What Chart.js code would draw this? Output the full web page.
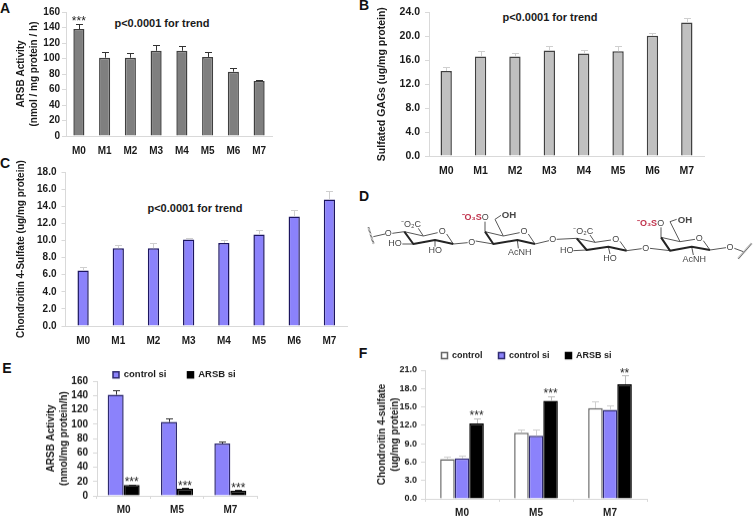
<!DOCTYPE html>
<html><head><meta charset="utf-8">
<script src="https://cdn.jsdelivr.net/npm/chart.js@4"></script>
<style>
html,body{margin:0;padding:0;background:#fff;width:753px;height:517px;overflow:hidden}
body{position:relative;font-family:"Liberation Sans",Arial,sans-serif;color:#1a1a1a}
canvas{position:absolute}
.t{position:absolute;white-space:nowrap;font-weight:bold;transform:translate(-50%,-50%);line-height:1}
.l{font-size:14px;color:#111}
.p{font-size:11px}
svg{position:absolute;left:355px;top:180px;opacity:.99;filter:blur(.3px)}
</style></head><body>
<div class="t l" style="left:5px;top:8px">A</div>
<div class="t l" style="left:364px;top:5px">B</div>
<div class="t l" style="left:5px;top:163px">C</div>
<div class="t l" style="left:364px;top:196px">D</div>
<div class="t l" style="left:7px;top:368px">E</div>
<div class="t l" style="left:363px;top:353px">F</div>
<div class="t p" style="left:162px;top:23px">p&lt;0.0001 for trend</div>
<div class="t p" style="left:550px;top:17px">p&lt;0.0001 for trend</div>
<div class="t p" style="left:195px;top:208px">p&lt;0.0001 for trend</div>

<svg width="398" height="130" viewBox="0 0 1194 390" font-family="Liberation Sans, Arial, sans-serif" font-size="27" fill="#444">
<g stroke="#555" stroke-width="3" fill="none">
<path d="M148 155L205 168L248 158M275 162L295 192M295 192L338 188M112 160L148 155M55 170L90 162M205 168L190 145M175 192L142 192M240 180L240 200"/>
<path d="M390 155L445 168L494 158M520 162L540 192M362 183L415 192M390 155L390 125M445 168L420 118L438 106M487 180L490 205M540 192L582 182"/>
<path d="M665 175L720 187L768 180M795 184L815 212M605 178L665 175M720 187L705 165M695 210L655 212M760 200L765 222M815 212L860 206"/>
<path d="M918 172L975 185L1020 178M1045 182L1065 210M885 205L945 212M918 172L918 142M975 185L945 125L965 118M1010 200L1015 225M1065 210L1113 203M1138 205L1165 215"/>
</g>
<g stroke="#222" stroke-width="6" fill="none" stroke-linejoin="round">
<path d="M148 155L175 192L240 180L295 192"/><path d="M390 155L415 192L487 180L540 192"/>
<path d="M665 175L695 210L760 200L815 212"/><path d="M918 172L945 212L1010 200L1065 210"/>
</g>
<g stroke="#444" stroke-width="6" stroke-dasharray="2 2" fill="none"><path d="M40 142L56 192"/><path d="M1150 236L1190 190"/></g>
<g text-anchor="middle" dominant-baseline="middle">
<text x="100" y="161">O</text><text x="262" y="155">O</text><text x="350" y="187">O</text><text x="507" y="155">O</text><text x="593" y="180">O</text><text x="782" y="178">O</text><text x="872" y="205">O</text><text x="1033" y="175">O</text><text x="1125" y="202">O</text>
<text x="120" y="192">HO</text><text x="241" y="213">HO</text><text x="635" y="212">HO</text><text x="765" y="235">HO</text>
<text x="494" y="218">AcNH</text><text x="1018" y="238">AcNH</text>
<text x="462" y="105" font-weight="bold" font-size="29">OH</text><text x="990" y="120" font-weight="bold" font-size="29">OH</text>
<text x="168" y="135">⁻O₂C</text><text x="685" y="155">⁻O₂C</text>
<text x="350" y="114" fill="#c0304a" font-weight="bold">⁻O₃S</text><text x="391" y="114">O</text>
<text x="876" y="132" fill="#c0304a" font-weight="bold">⁻O₃S</text><text x="917" y="132">O</text>
</g>
</svg>

<canvas id="a"></canvas><canvas id="b"></canvas><canvas id="c"></canvas><canvas id="e"></canvas><canvas id="f"></canvas>
<script>
const months = ['M0','M1','M2','M3','M4','M5','M6','M7'];
const groups = ['M0','M5','M7'];

const arsbActivity    = [138,101,101,110,110,102,83,71];
const arsbActivityTop = [145,109,107,117,116,108,88,72];

const sulfatedGags    = [14.2,16.6,16.6,17.6,17.1,17.5,20.1,22.3];
const sulfatedGagsTop = [14.9,17.5,17.2,18.3,17.7,18.3,20.5,23.1];

const c4s    = [6.5,9.1,9.1,10.1,9.7,10.7,12.8,14.8];
const c4sTop = [6.9,9.5,9.7,10.3,10.1,11.2,13.6,15.8];

const eControlSi    = [141,103,73];
const eControlSiTop = [148,108,76];
const eArsbSi       = [15,10,7];
const eArsbSiTop    = [16,11,8];

const fControl      = [6.5,10.8,14.8];
const fControlTop   = [6.9,11.3,15.9];
const fControlSi    = [6.6,10.3,14.5];
const fControlSiTop = [7.0,11.3,15.3];
const fArsbSi       = [12.3,16.0,18.7];
const fArsbSiTop    = [13.2,16.8,20.2];

const FONT = '"Liberation Sans", Arial, sans-serif';
const INK = '#1a1a1a', AXIS = '#d9d9d9';
const PURPLE = '#8b82fb';

const marks = {
  id:'marks',
  beforeLayout(ch){
    if(ch.legend && !ch.legend._flat){
      const fit = ch.legend.fit;
      ch.legend.fit = function(){ fit.call(this); this.height = 0; };
      ch.legend._flat = true;
    }
  },
  afterLayout(ch,_,o){
    if(o.legendAt && ch.legend){
      const pad = ch.options.plugins.legend.labels.padding;
      const w = ch.legend.right - ch.legend.left;
      ch.legend.left = o.legendAt[0] - pad; ch.legend.right = ch.legend.left + w;
      ch.legend.top = o.legendAt[1] - pad; ch.legend.bottom = ch.legend.top + 2*pad + 14;
    }
  },
  afterDatasetsDraw(ch,_,o){
    const c = ch.ctx, y = ch.scales.y;
    ch.data.datasets.forEach((d,di)=>{
      const m = ch.getDatasetMeta(di);
      d.errTop.forEach((t,i)=>{
        const x = m.data[i].x, y0 = y.getPixelForValue(d.data[i]), y1 = y.getPixelForValue(t);
        c.save(); c.strokeStyle = d.errColor; c.lineWidth = 1;
        const xx = Math.round(x)+.5, yy = Math.round(y1)+.5;
        c.beginPath(); c.moveTo(xx,y0); c.lineTo(xx,yy); c.moveTo(xx-3.5,yy); c.lineTo(xx+3.5,yy); c.stroke();
        c.restore();
      });
    });
    (o.stars||[]).forEach(s=>{
      const x = ch.getDatasetMeta(s[0]).data[s[1]].x;
      const t = ch.data.datasets[s[0]].errTop[s[1]];
      c.save(); c.fillStyle='#222'; c.font='12px '+FONT; c.textAlign='center'; c.textBaseline='top';
      c.fillText(s[2], x, y.getPixelForValue(t)-7.5); c.restore();
    });
  }
};

function make(id, s){
  const padTop = s.padTop||9, padRight = 8;
  const W = s.yW + (s.R-s.L) + padRight, H = padTop + (s.B-s.T) + 28;
  const ox = s.L-s.yW, oy = s.T-padTop;
  const el = document.getElementById(id);
  el.width = W; el.height = H;
  el.style.left = ox+'px'; el.style.top = oy+'px';
  el.style.width = W+'px'; el.style.height = H+'px';
  new Chart(el,{
    type:'bar',
    data:{labels:s.labels,datasets:s.datasets.map(d=>({
      label:d.label,data:d.data,errTop:d.top,errColor:d.err,
      backgroundColor:d.fill,borderColor:d.line,borderWidth:1.5,
      categoryPercentage:s.cat,barPercentage:1
    }))},
    plugins:[marks],
    options:{
      responsive:false,animation:false,events:[],
      layout:{padding:{top:padTop,right:padRight,left:0,bottom:0}},
      plugins:{
        tooltip:{enabled:false},
        legend:s.legend?{display:true,position:'top',align:'start',
          labels:{boxWidth:6,boxHeight:6,padding:s.legend.gap,color:INK,font:{family:FONT,size:s.legend.size,weight:'bold'}}}:{display:false},
        marks:{legendAt:s.legend?[s.legend.at[0]-ox,s.legend.at[1]-oy]:null,stars:s.stars}
      },
      scales:{
        x:{
          grid:{display:true,drawOnChartArea:false,drawTicks:!!s.xTicks,tickLength:s.xTicks?3:0,color:AXIS},
          border:{color:AXIS},
          ticks:{color:INK,padding:s.xTicks?5:9,maxRotation:0,autoSkip:false,font:{family:FONT,size:s.xSize||10,weight:'bold'}},
          afterFit(a){a.height=28}
        },
        y:{
          min:0,max:s.max,
          grid:{drawOnChartArea:false,tickLength:4,color:AXIS},
          border:{color:AXIS},
          ticks:{stepSize:s.step,padding:s.yPad,color:INK,autoSkip:false,font:{family:FONT,size:s.ySize||10,weight:'bold'},
            callback:v=>s.dec?v.toFixed(1):String(v)},
          title:{display:true,text:s.title,color:INK,padding:0,font:{family:FONT,size:s.titleSize||10,weight:'bold',lineHeight:s.titleLH||1.3}},
          afterFit(a){a.width=s.yW}
        }
      }
    }
  });
}

make('a',{L:65.5,R:271.5,T:11.5,B:136,yW:51,yPad:2,max:160,step:20,labels:months,cat:.43,
  title:['ARSB Activity','(nmol / mg protein / h)'],
  datasets:[{label:'ARSB',data:arsbActivity,top:arsbActivityTop,fill:'#7f7f7f',line:'#3f3f3f',err:'#333'}],
  stars:[[0,0,'***']]});
make('b',{L:429,R:704,T:4.5,B:156,yW:53,yPad:5,padTop:4,max:24,step:4,dec:true,ySize:10.5,xSize:10.5,titleSize:10.5,labels:months,cat:.33,
  title:'Sulfated GAGs (ug/mg protein)',titleLH:1.2,
  datasets:[{label:'GAGs',data:sulfatedGags,top:sulfatedGagsTop,fill:'#c0c0c0',line:'#404040',err:'#cfcfcf'}]});
make('c',{L:65.5,R:347,T:172,B:326,yW:50.5,yPad:5,padTop:14,max:18,step:2,dec:true,labels:months,cat:.32,
  title:'Chondroitin 4-Sulfate (ug/mg protein)',titleLH:1.2,
  datasets:[{label:'C4S',data:c4s,top:c4sTop,fill:PURPLE,line:'#1c1560',err:'#cfcfcf'}]});
make('e',{L:97,R:257,T:381,B:495.5,yW:52,yPad:5,padTop:14,max:160,step:20,labels:groups,cat:.6,xTicks:true,
  title:['ARSB Activity','(nmol/mg protein/h)'],
  legend:{at:[113,370],gap:21,size:9.5},
  datasets:[
    {label:'control si',data:eControlSi,top:eControlSiTop,fill:PURPLE,line:'#2f2a70',err:'#333'},
    {label:'ARSB si',data:eArsbSi,top:eArsbSiTop,fill:'#000',line:'#000',err:'#222'}],
  stars:[[1,0,'***'],[1,1,'***'],[1,2,'***']]});
make('f',{L:424.5,R:647,T:370,B:498.5,yW:49,yPad:4,padTop:22,max:21,step:3,dec:true,ySize:9,labels:groups,cat:.59,xTicks:true,
  title:['Chondroitin 4-sulfate','(ug/mg protein)'],
  legend:{at:[441,351],gap:16,size:9},
  datasets:[
    {label:'control',data:fControl,top:fControlTop,fill:'#fff',line:'#666',err:'#cfcfcf'},
    {label:'control si',data:fControlSi,top:fControlSiTop,fill:PURPLE,line:'#2f2a70',err:'#cfcfcf'},
    {label:'ARSB si',data:fArsbSi,top:fArsbSiTop,fill:'#000',line:'#000',err:'#bbb'}],
  stars:[[2,0,'***'],[2,1,'***'],[2,2,'**']]});
</script>
</body></html>
